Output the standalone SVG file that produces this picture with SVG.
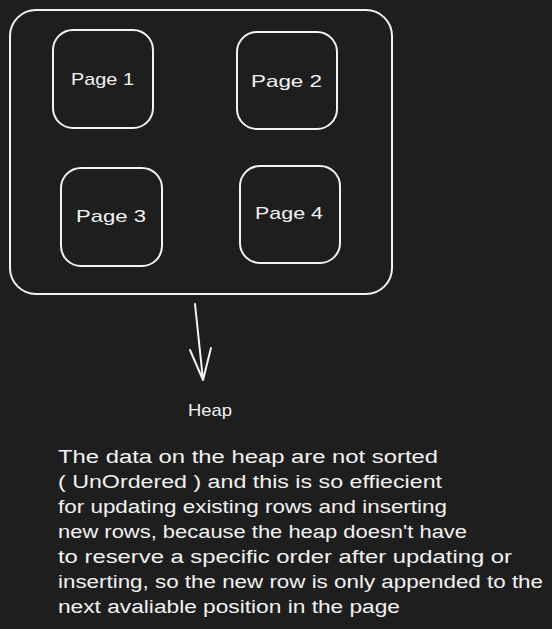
<svg xmlns="http://www.w3.org/2000/svg" width="552" height="629" viewBox="0 0 552 629">
<style>
.box{fill:none;stroke:#f2f2f2;stroke-width:2;stroke-linecap:round;stroke-linejoin:round}
.lbl{font-family:"Liberation Sans","DejaVu Sans",sans-serif;font-size:17px;fill:#f2f2f2}
.txt{font-family:"Liberation Sans","DejaVu Sans",sans-serif;font-size:18px;fill:#f2f2f2}
</style>
<rect width="552" height="629" fill="#1e1e1e"/>
<g id="heap-container"><rect class="box" x="10" y="10" width="382" height="284" rx="26"/></g>
<g id="page1"><rect class="box" x="53" y="30" width="100" height="98" rx="20"/><text class="lbl" x="71" y="85" textLength="63" lengthAdjust="spacingAndGlyphs">Page 1</text></g>
<g id="page2"><rect class="box" x="237" y="32" width="100" height="97" rx="20"/><text class="lbl" x="251" y="87" textLength="71" lengthAdjust="spacingAndGlyphs">Page 2</text></g>
<g id="page3"><rect class="box" x="61" y="168" width="101" height="98" rx="20"/><text class="lbl" x="76" y="222" textLength="70" lengthAdjust="spacingAndGlyphs">Page 3</text></g>
<g id="page4"><rect class="box" x="240" y="166" width="100" height="97" rx="20"/><text class="lbl" x="255" y="219" textLength="68" lengthAdjust="spacingAndGlyphs">Page 4</text></g>
<g id="connectors"><path class="box" d="M195 304 L203 380 M190 350 L203 380 L211 348"/></g>
<g id="heap-label"><text class="lbl" x="188" y="416" textLength="44" lengthAdjust="spacingAndGlyphs">Heap</text></g>
<g id="description">
<text class="txt" x="58" y="463" textLength="380" lengthAdjust="spacingAndGlyphs">The data on the heap are not sorted</text>
<text class="txt" x="58" y="488" textLength="384" lengthAdjust="spacingAndGlyphs">( UnOrdered ) and this is so effiecient</text>
<text class="txt" x="58" y="513" textLength="389" lengthAdjust="spacingAndGlyphs">for updating existing rows and inserting</text>
<text class="txt" x="58" y="538" textLength="409" lengthAdjust="spacingAndGlyphs">new rows, because the heap doesn't have</text>
<text class="txt" x="58" y="563" textLength="454" lengthAdjust="spacingAndGlyphs">to reserve a specific order after updating or</text>
<text class="txt" x="58" y="588" textLength="485" lengthAdjust="spacingAndGlyphs">inserting, so the new row is only appended to the</text>
<text class="txt" x="58" y="613" textLength="342" lengthAdjust="spacingAndGlyphs">next avaliable position in the page</text>
</g>
</svg>
